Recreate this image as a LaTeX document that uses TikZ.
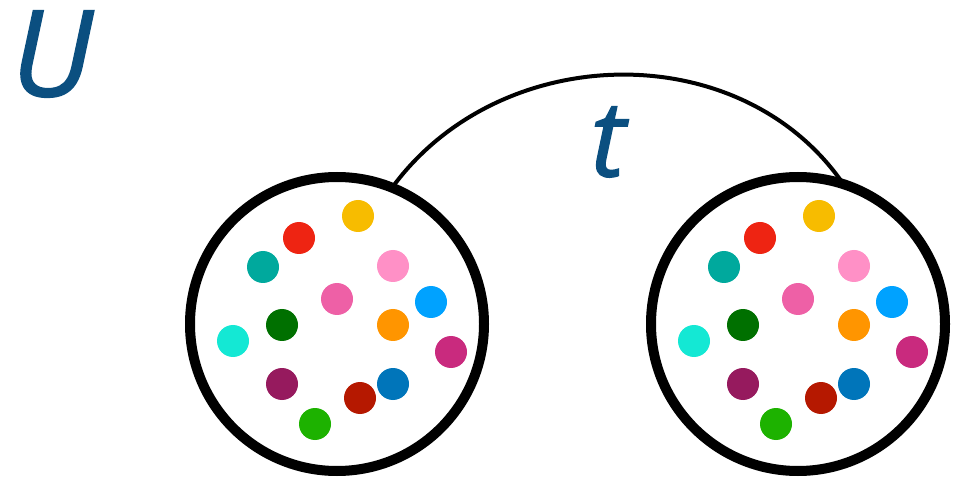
\documentclass[tikz,border=0pt]{standalone}
\usepackage{fontspec}
\setmainfont{Open Sans}
\newfontfamily\labfont[FakeBold=1.2]{Open Sans}
\definecolor{ublue}{HTML}{0B4F80}
\definecolor{c1}{HTML}{F7BC00}
\definecolor{c2}{HTML}{EE2412}
\definecolor{c3}{HTML}{00A99D}
\definecolor{c4}{HTML}{FF90C6}
\definecolor{c5}{HTML}{EE60A6}
\definecolor{c6}{HTML}{00A2FF}
\definecolor{c7}{HTML}{007000}
\definecolor{c8}{HTML}{FF9500}
\definecolor{c9}{HTML}{14E8D4}
\definecolor{c10}{HTML}{C92A7E}
\definecolor{c11}{HTML}{961A5E}
\definecolor{c12}{HTML}{B51800}
\definecolor{c13}{HTML}{0075BA}
\definecolor{c14}{HTML}{1DB200}
\begin{document}
\begin{tikzpicture}[x=1pt,y=-1pt,
  setcircle/.style={circle,draw=black,line width=10pt,minimum size=294pt,inner sep=0pt,outer sep=0pt},
  dot/.style={circle,minimum size=32pt,inner sep=0pt,draw=none},
  biglabel/.style={text=ublue,inner sep=0pt}]
\useasboundingbox (0,0) rectangle (972,478);
\node[setcircle] (L) at (337,324) {};
\node[setcircle] (R) at (798,324) {};
\foreach \x/\y/\c [count=\i] in {358/216/c1,299/238/c2,263/267/c3,393/266/c4,337/299/c5,431/302/c6,282/325/c7,393/325/c8,233/341/c9,451/352/c10,282/384/c11,360/398/c12,393/384/c13,315/424/c14}{
  \node[dot,fill=\c] (l\i) at (\x,\y) {};
  \node[dot,fill=\c] (r\i) at ({\x+461},\y) {};
}
\draw[line width=4pt] (L.68) .. controls (500,40) and (741,35) .. (R.72);
\node[biglabel,font=\labfont\itshape\fontsize{120}{120}\selectfont] (U) at (52,54) {U};
\node[biglabel,font=\labfont\itshape\fontsize{106}{106}\selectfont] (t) at (608,142) {t};
\end{tikzpicture}
\end{document}
